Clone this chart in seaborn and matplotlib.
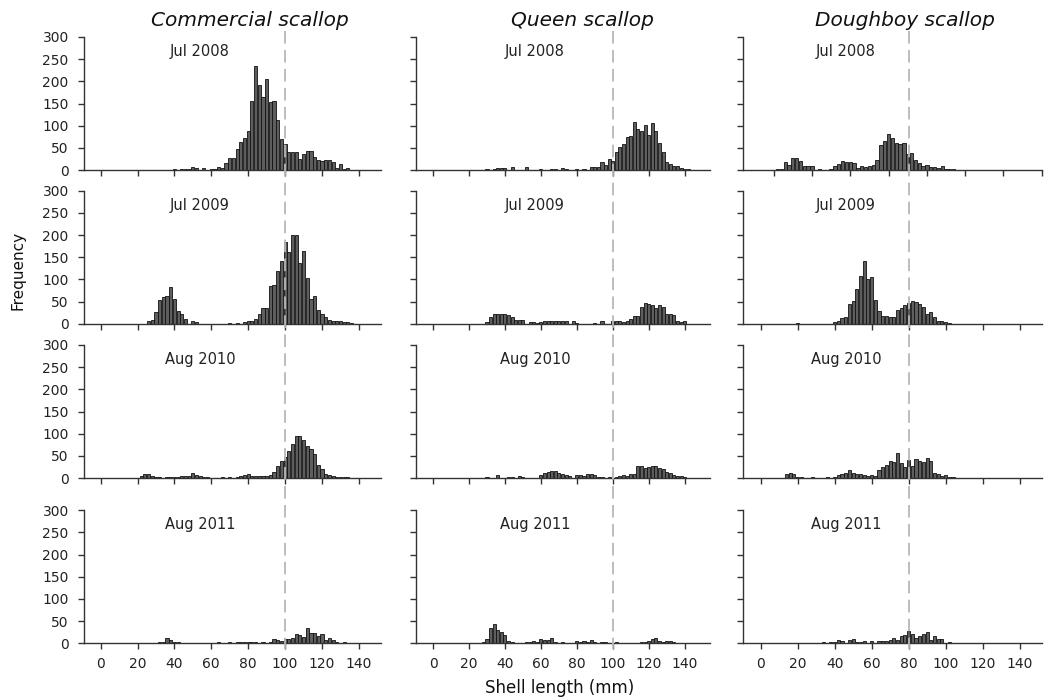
import numpy as np
import pandas as pd
import matplotlib
matplotlib.use("Agg")
import matplotlib.pyplot as plt
import seaborn as sns
from matplotlib.lines import Line2D

# ---------------- data ----------------
species = ["Commercial scallop", "Queen scallop", "Doughboy scallop"]
surveys = ["Jul 2008", "Jul 2009", "Aug 2010", "Aug 2011"]
reference_size = [100, 100, 80]          # mm, dashed reference line per species
bin_width = 2                             # mm, classes centred on even lengths
x_ticks = [0, 20, 40, 60, 80, 100, 120, 140]
y_ticks = [0, 50, 100, 150, 200, 250, 300]

# each series: length (mm) of its first class, then counts of consecutive 2 mm classes
comm_2008_first = 40
comm_2008 = [3, 0, 2, 3, 3, 6, 4, 0, 4, 0, 2, 2, 6, 5, 15, 26, 27, 47, 63, 73, 88, 156,
             235, 192, 165, 205, 154, 156, 112, 70, 59, 40, 40, 40, 25, 36, 43, 42, 29,
             23, 21, 22, 23, 18, 5, 13, 3, 5]
comm_2009_first = 26
comm_2009 = [6, 8, 26, 54, 60, 63, 82, 56, 28, 21, 10, 0, 5, 3, 0, 0, 0, 0, 0, 0, 0, 0,
             2, 0, 2, 0, 4, 7, 5, 11, 21, 35, 35, 84, 88, 118, 142, 184, 161, 199, 199,
             138, 163, 102, 55, 63, 31, 22, 14, 9, 6, 5, 5, 4, 3, 2]
comm_2010_first = 22
comm_2010 = [5, 8, 8, 5, 2, 2, 0, 2, 2, 2, 3, 5, 5, 5, 12, 6, 4, 3, 2, 0, 0, 0, 2, 0, 2,
             0, 3, 5, 6, 9, 5, 4, 4, 5, 5, 7, 14, 26, 39, 48, 61, 76, 94, 94, 86, 73, 66,
             55, 30, 21, 9, 7, 5, 3, 2, 2, 2, 1, 0, 0, 0, 1]
comm_2011_first = 32
comm_2011 = [2, 4, 12, 7, 4, 4, 0, 0, 0, 0, 0, 0, 0, 0, 0, 0, 2, 0, 0, 2, 0, 3, 4, 3, 3,
             4, 4, 0, 3, 0, 2, 9, 7, 6, 9, 9, 12, 20, 19, 14, 34, 23, 24, 16, 20, 8, 11,
             7, 4, 0, 2]

queen_2008_first = 30
queen_2008 = [2, 0, 3, 5, 5, 4, 0, 6, 0, 0, 0, 6, 0, 0, 0, 2, 0, 0, 3, 3, 0, 4, 2, 0, 0,
              2, 0, 2, 0, 7, 7, 7, 18, 12, 24, 21, 41, 53, 58, 75, 77, 108, 93, 88, 101,
              79, 105, 88, 62, 40, 17, 14, 10, 8, 4, 3, 2]
queen_2009_first = 30
queen_2009 = [4, 14, 23, 23, 23, 22, 19, 14, 8, 8, 8, 0, 4, 4, 2, 4, 6, 5, 7, 5, 7, 6, 5,
              0, 5, 2, 0, 0, 0, 0, 2, 0, 5, 0, 0, 5, 5, 5, 4, 5, 10, 17, 17, 37, 46, 45,
              42, 35, 42, 37, 23, 21, 20, 7, 3, 7]
queen_2010_first = 30
queen_2010 = [2, 1, 0, 6, 1, 0, 3, 3, 0, 5, 2, 0, 0, 1, 0, 6, 11, 14, 16, 16, 12, 9, 7, 5,
              0, 6, 6, 5, 8, 9, 6, 3, 2, 0, 2, 1, 3, 5, 6, 4, 9, 8, 27, 26, 22, 25, 27,
              26, 23, 20, 14, 11, 6, 5, 4, 2]
queen_2011_first = 28
queen_2011 = [4, 10, 35, 44, 30, 25, 19, 6, 4, 0, 0, 0, 2, 2, 5, 4, 10, 8, 8, 11, 4, 0, 2,
              0, 0, 0, 5, 4, 5, 4, 7, 2, 0, 4, 3, 0, 0, 2, 0, 0, 0, 0, 0, 0, 3, 3, 6, 10,
              13, 6, 4, 5, 5, 2]

dough_2008_first = 2
dough_2008 = [2, 3, 18, 12, 28, 28, 21, 10, 8, 8, 0, 3, 0, 0, 3, 8, 14, 20, 17, 17, 15, 4,
              9, 6, 10, 11, 23, 57, 65, 82, 72, 60, 58, 60, 35, 38, 23, 15, 8, 12, 6, 6,
              4, 8, 3, 3, 2]
dough_2009_first = 20
dough_2009 = [2, 0, 0, 0, 0, 0, 0, 0, 0, 0, 4, 5, 13, 16, 45, 52, 79, 108, 141, 100, 106,
              54, 28, 18, 17, 14, 15, 31, 35, 42, 47, 51, 48, 44, 38, 23, 27, 15, 6, 5,
              3, 2]
dough_2010_first = 14
dough_2010 = [8, 11, 8, 3, 2, 0, 0, 2, 0, 0, 0, 2, 0, 3, 6, 8, 12, 17, 12, 8, 8, 6, 5, 7,
              5, 17, 24, 30, 38, 35, 57, 34, 24, 41, 27, 43, 39, 35, 45, 38, 12, 8, 5, 6,
              3, 2]
dough_2011_first = 34
dough_2011 = [2, 0, 4, 4, 7, 5, 0, 7, 9, 4, 3, 6, 0, 5, 0, 6, 5, 6, 7, 11, 8, 17, 19, 28,
              22, 13, 17, 22, 26, 8, 16, 10, 9, 0, 2]

series = {
    ("Commercial scallop", "Jul 2008"): (comm_2008_first, comm_2008),
    ("Commercial scallop", "Jul 2009"): (comm_2009_first, comm_2009),
    ("Commercial scallop", "Aug 2010"): (comm_2010_first, comm_2010),
    ("Commercial scallop", "Aug 2011"): (comm_2011_first, comm_2011),
    ("Queen scallop", "Jul 2008"): (queen_2008_first, queen_2008),
    ("Queen scallop", "Jul 2009"): (queen_2009_first, queen_2009),
    ("Queen scallop", "Aug 2010"): (queen_2010_first, queen_2010),
    ("Queen scallop", "Aug 2011"): (queen_2011_first, queen_2011),
    ("Doughboy scallop", "Jul 2008"): (dough_2008_first, dough_2008),
    ("Doughboy scallop", "Jul 2009"): (dough_2009_first, dough_2009),
    ("Doughboy scallop", "Aug 2010"): (dough_2010_first, dough_2010),
    ("Doughboy scallop", "Aug 2011"): (dough_2011_first, dough_2011),
}

rows = []
for (sp, sv), (first, counts) in series.items():
    for i, c in enumerate(counts):
        if c > 0:
            rows.append({"species": sp, "survey": sv,
                         "length": float(first + bin_width * i), "count": float(c)})
df = pd.DataFrame(rows)

# ---------------- layout (pixels) ----------------
W, H = 1044, 698
sns.set_theme(style="ticks")
plt.rcParams["font.family"] = ["DejaVu Sans"]

fig = plt.figure(figsize=(W / 100, H / 100), dpi=100)

col_left = [84, 416, 743]
col_xlim = [(-9, 152), (-9.5, 154), (-9.5, 152)]
col_scale = [1.845, 1.797, 1.85]            # px per mm
row_zero = [170, 323.7, 478, 643.3]         # pixel y of count 0
row_h = 133
label_fx = [0.39, 0.405, 0.345]

axes = {}
for r, sv in enumerate(surveys):
    for c, sp in enumerate(species):
        xlim = col_xlim[c]
        scale = col_scale[c]
        if r == 0 and c == 2:
            scale = 2.01
            xlim = (-16, -16 + 298.8 / scale)
        w = (xlim[1] - xlim[0]) * scale
        ax = fig.add_axes([col_left[c] / W, 1 - row_zero[r] / H, w / W, row_h / H])
        sub = df[(df.species == sp) & (df.survey == sv)]
        sns.histplot(data=sub, x="length", weights="count", binwidth=bin_width,
                     binrange=(-1, 153), ax=ax, color="#5e5e5e", edgecolor="#111111",
                     linewidth=0.6, shrink=0.85, alpha=1.0)
        ax.set_xlim(*xlim)
        ax.set_ylim(0, 300)
        ax.set_xticks(x_ticks)
        ax.set_yticks(y_ticks)
        ax.set_xlabel("")
        ax.set_ylabel("")
        for s in ["top", "right"]:
            ax.spines[s].set_visible(False)
        for s in ["left", "bottom"]:
            ax.spines[s].set_color("#333333")
            ax.spines[s].set_linewidth(1.0)
        ax.tick_params(axis="both", direction="out", length=4, width=1.0,
                       color="#333333", labelsize=10, labelcolor="#222222")
        ax.tick_params(axis="y", pad=7)
        ax.tick_params(axis="x", pad=6)
        if c != 0:
            ax.set_yticklabels([])
        if r != 3:
            ax.set_xticklabels([])
        ax.text(label_fx[c], 0.89, sv, transform=ax.transAxes, ha="center",
                va="center", fontsize=10.5, color="#222222")
        axes[(r, c)] = ax

# dashed reference lines running through each column
for c, ref in enumerate(reference_size):
    xd = axes[(3, c)].transData.transform((ref, 0))[0] / fig.bbox.width
    fig.add_artist(Line2D([xd, xd], [1 - 31 / H, 1 - 649 / H], transform=fig.transFigure,
                          color="#b8b8b8", linewidth=1.3, linestyle=(0, (7, 3.5)),
                          zorder=0.5))

# column titles and axis labels
title_x = [250, 582, 905]
for c, sp in enumerate(species):
    fig.text(title_x[c] / W, 1 - 21 / H, sp, ha="center", va="center",
             fontsize=14.5, style="italic", color="#111111")
fig.text(18 / W, 1 - 270 / H, "Frequency", rotation=90, ha="center", va="center",
         fontsize=11, color="#111111")
fig.text(560 / W, 1 - 688 / H, "Shell length (mm)", ha="center", va="center",
         fontsize=12, color="#111111")

fig.savefig("out.png", dpi=100)
